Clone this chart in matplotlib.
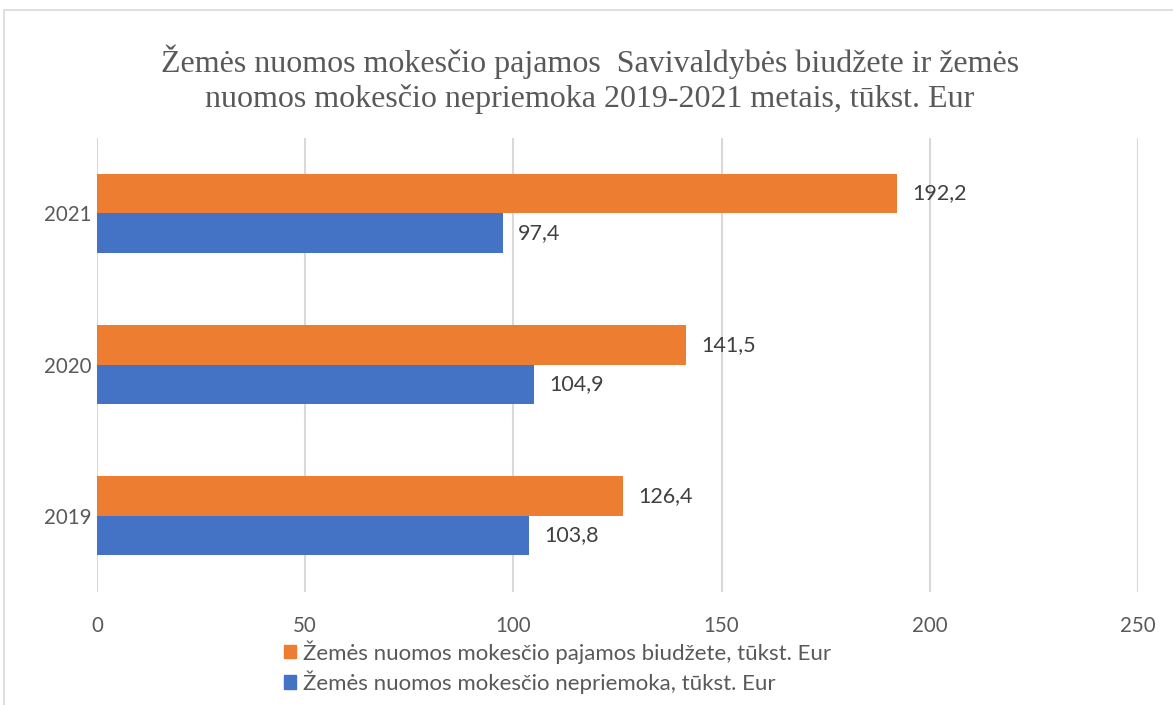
import matplotlib
matplotlib.use("Agg")
import matplotlib.pyplot as plt
from matplotlib.patches import Rectangle, Patch
import numpy as np

years = ["2019", "2020", "2021"]
pajamos = [126.4, 141.5, 192.2]
nepriemoka = [103.8, 104.9, 97.4]
pajamos_label = "Žemės nuomos mokesčio pajamos biudžete, tūkst. Eur"
nepriemoka_label = "Žemės nuomos mokesčio nepriemoka, tūkst. Eur"
title = "Žemės nuomos mokesčio pajamos  Savivaldybės biudžete ir žemės\nnuomos mokesčio nepriemoka 2019-2021 metais, tūkst. Eur"
xticks = [0, 50, 100, 150, 200, 250]

ORANGE = "#ED7D31"
BLUE = "#4472C4"
TXT = "#595959"
GRID = "#D9D9D9"
SANS = ["Lato", "DejaVu Sans"]

fig = plt.figure(figsize=(11.73, 7.05), dpi=100)
fig.patches.append(Rectangle((4 / 1173, -0.01), 1.02, 1 - 10 / 705 + 0.01,
                             transform=fig.transFigure, fill=False,
                             edgecolor=GRID, linewidth=1.2))
ax = fig.add_axes([97 / 1173, 1 - 591.5 / 705, (1138 - 97) / 1173, (591.5 - 137.5) / 705])

y = np.arange(len(years))
h = 0.26
b1 = ax.barh(y + h / 2, pajamos, height=h, color=ORANGE, label=pajamos_label, zorder=3)
b2 = ax.barh(y - h / 2, nepriemoka, height=h, color=BLUE, label=nepriemoka_label, zorder=3)

for bars, vals in ((b1, pajamos), (b2, nepriemoka)):
    for bar, v in zip(bars, vals):
        ax.annotate(f"{v:.1f}".replace(".", ","),
                    (v, bar.get_y() + bar.get_height() / 2),
                    xytext=(11, 0), textcoords="offset points",
                    ha="left", va="center", fontsize=15.5, color="#404040",
                    family=SANS)

ax.set_xlim(0, 250)
ax.set_ylim(-0.5, 2.5)
ax.set_xticks(xticks)
ax.set_yticks(y)
ax.set_yticklabels(years)
for lbl in ax.get_xticklabels() + ax.get_yticklabels():
    lbl.set_fontfamily(SANS)
    lbl.set_fontsize(14.8)
    lbl.set_color(TXT)
ax.tick_params(length=0)
ax.tick_params(axis="x", pad=18)
ax.tick_params(axis="y", pad=4)
ax.grid(axis="x", color=GRID, linewidth=1.5, zorder=0)
for s in ax.spines.values():
    s.set_visible(False)

fig.text(590 / 1173, 1 - 79 / 705, title, ha="center", va="center",
         fontsize=23, color=TXT, family=["Liberation Serif", "DejaVu Serif"],
         linespacing=1.22)

handles = [Patch(color=ORANGE), Patch(color=BLUE)]
fig.legend(handles, [pajamos_label, nepriemoka_label], loc="upper left",
           bbox_to_anchor=(284 / 1173, 1 - 640 / 705), frameon=False,
           prop={"family": SANS, "size": 16}, labelcolor=TXT,
           handlelength=0.55, handleheight=0.55, handletextpad=0.3,
           labelspacing=0.3, borderpad=0, borderaxespad=0)

fig.savefig("out.png", dpi=100)
